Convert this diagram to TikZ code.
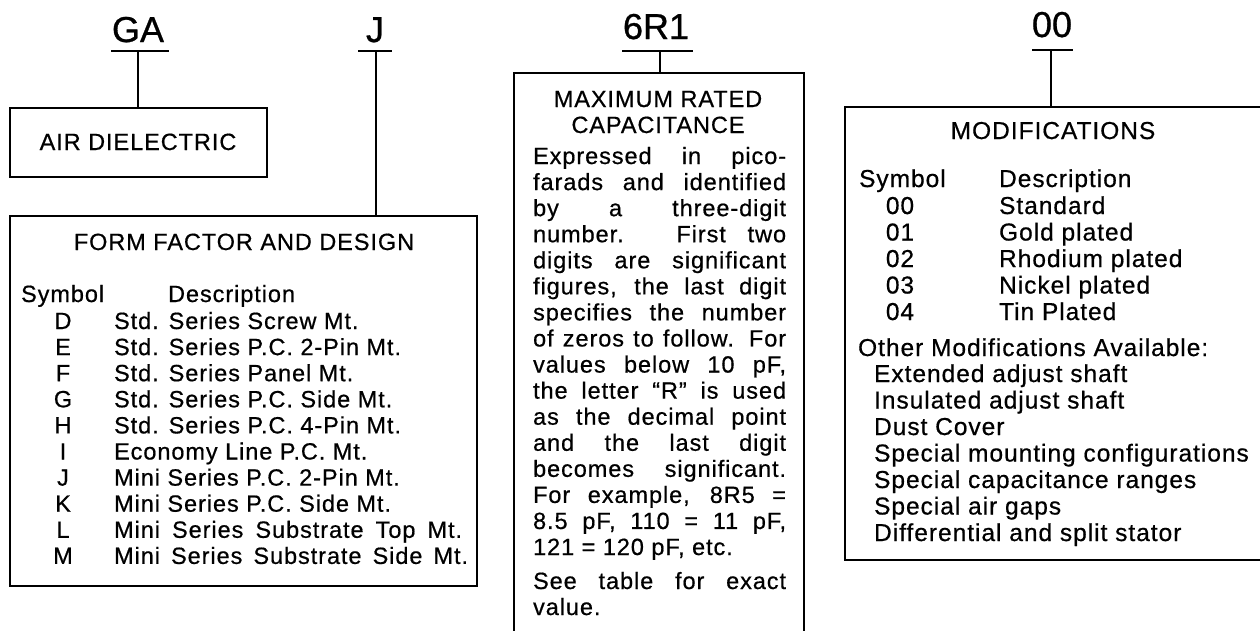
\documentclass[tikz,border=0pt]{standalone}
\usepackage{fontspec}
\setmainfont{Liberation Sans}[LetterSpace=4,FakeBold=0.6]
\newfontfamily\labfont{Liberation Sans}[FakeBold=0.8]
\begin{document}
\begin{tikzpicture}[x=1pt,y=-1pt,line width=2.2pt,
  box/.style={draw,line width=2.2pt,inner sep=0pt,anchor=north west},
  txt/.style={anchor=base west,inner sep=0pt,font=\fontsize{23.5}{26}\selectfont},
  ctxt/.style={anchor=base,inner sep=0pt,font=\fontsize{23.5}{26}\selectfont},
  rtxt/.style={anchor=base west,inner sep=0pt,font=\fontsize{24.5}{26}\selectfont},
  rctxt/.style={anchor=base,inner sep=0pt,font=\fontsize{24.5}{26}\selectfont},
  lab/.style={anchor=base,inner sep=0pt,font=\labfont\fontsize{36}{40}\selectfont},
  wire/.style={draw,line width=2.2pt}]
\clip (0,0) rectangle (1260,630);
% top code labels
\node[lab] (GA) at (138,42) {GA};
\node[lab] (J) at (375,42) {J};
\node[lab] (R) at (656,39) {6R1};
\node[lab] (OO) at (1052,37) {00};
% underline coordinates
\coordinate (gaL) at (111,51); \coordinate (gaR) at (169,51); \coordinate (gaS) at (138,51);
\coordinate (jL) at (358,51); \coordinate (jR) at (392,51); \coordinate (jS) at (376,51);
\coordinate (rL) at (622,51); \coordinate (rR) at (693,51); \coordinate (rS) at (660,51);
\coordinate (oL) at (1032,50); \coordinate (oR) at (1073,50); \coordinate (oS) at (1051,50);
% boxes
\node[box,minimum width=257,minimum height=69] (air) at (9,107) {};
\node[box,minimum width=467,minimum height=370] (form) at (9,215) {};
\node[box,minimum width=290,minimum height=590] (cap) at (513,72) {};
\node[box,minimum width=440,minimum height=453] (mod) at (844,106) {};
% connectors
\draw[wire] (gaL) -- (gaR); \draw[wire] (gaS) -- (gaS |- air.north);
\draw[wire] (jL) -- (jR); \draw[wire] (jS) -- (jS |- form.north);
\draw[wire] (rL) -- (rR); \draw[wire] (rS) -- (rS |- cap.north);
\draw[wire] (oL) -- (oR); \draw[wire] (oS) -- (oS |- mod.north);
% air dielectric
\node[ctxt] (airT) at (138,150) {AIR DIELECTRIC};
% form factor
\node[ctxt] (formT) at (244,250) {FORM FACTOR AND DESIGN};
\node[txt] (fs) at (20,302) {Symbol};
\node[txt] (fd) at (167,302) {Description};
\foreach \s/\d [count=\k from 0] in {D/Std. Series Screw Mt.,E/Std. Series P.C. 2-Pin Mt.,F/Std. Series Panel Mt.,G/Std. Series P.C. Side Mt.,H/Std. Series P.C. 4-Pin Mt.,I/Economy Line P.C. Mt.,J/Mini Series P.C. 2-Pin Mt.,K/Mini Series P.C. Side Mt.}{
  \node[ctxt] (fs\k) at (63,329+26.1*\k) {\s};
  \node[txt] (fd\k) at (113,329+26.1*\k) {\d};
}
\node[ctxt] (fs8) at (63,329+26.1*8) {L};
\node[txt] (fd8) at (113,329+26.1*8) {\makebox[348pt][s]{Mini Series Substrate Top Mt.}};
\node[ctxt] (fs9) at (63,329+26.1*9) {M};
\node[txt] (fd9) at (113,329+26.1*9) {\makebox[354pt][s]{Mini Series Substrate Side Mt.}};
% capacitance
\node[ctxt] (capT1) at (658,107) {MAXIMUM RATED};
\node[ctxt] (capT2) at (658,133) {CAPACITANCE};
\foreach \l [count=\k from 0] in {Expressed in pico-,farads and identified,by a three-digit,number. First two,digits are significant,{figures, the last digit},specifies the number,of zeros to follow. For,{values below 10 pF,},the letter “R” is used,as the decimal point,and the last digit,becomes significant.,{For example, 8R5 =},{8.5 pF, 110 = 11 pF,}}{
  \node[txt] (c\k) at (532,164+26.07*\k) {\makebox[253pt][s]{\l}};
}
\node[txt] (c15) at (532,555) {121 = 120 pF, etc.};
\node[txt] (c16) at (532,589) {\makebox[253pt][s]{See table for exact}};
\node[txt] (c17) at (532,615) {value.};
% modifications
\node[rctxt] (modT) at (1053,139) {MODIFICATIONS};
\node[rtxt] (ms) at (858,187) {Symbol};
\node[rtxt] (md) at (998,187) {Description};
\foreach \s/\d [count=\k from 0] in {00/Standard,01/Gold plated,02/Rhodium plated,03/Nickel plated,04/Tin Plated}{
  \node[rctxt] (ms\k) at (900,214+26.5*\k) {\s};
  \node[rtxt] (md\k) at (998,214+26.5*\k) {\d};
}
\node[rtxt] (other) at (857,356) {Other Modifications Available:};
\foreach \d [count=\k from 0] in {Extended adjust shaft,Insulated adjust shaft,Dust Cover,Special mounting configurations,Special capacitance ranges,Special air gaps,Differential and split stator}{
  \node[rtxt] (mo\k) at (873,382+26.5*\k) {\d};
}
\end{tikzpicture}
\end{document}
